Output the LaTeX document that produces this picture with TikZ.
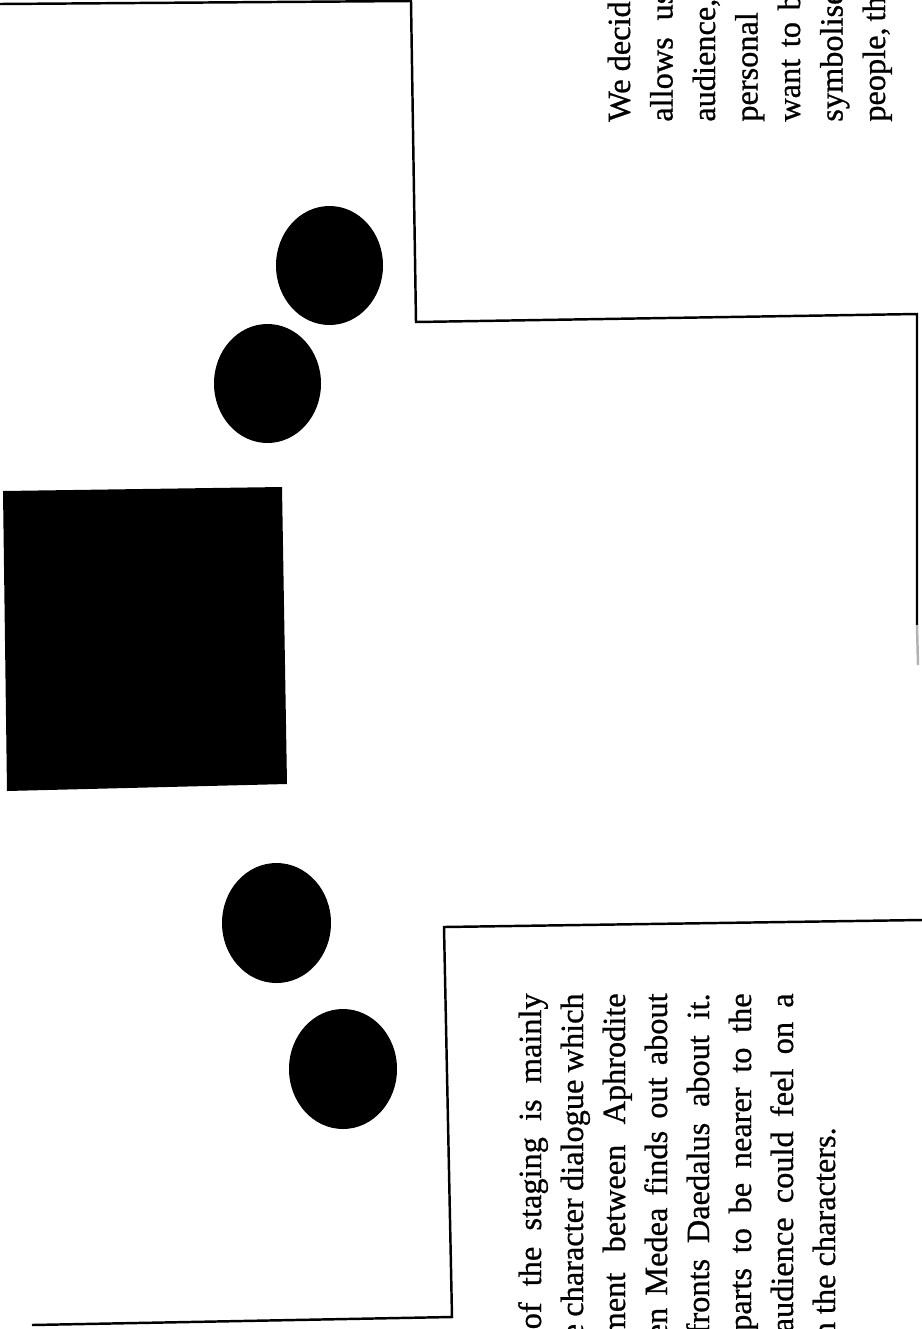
\documentclass[tikz,border=0pt]{standalone}
\usepackage{fontspec}
\setmainfont{Liberation Serif}
\usetikzlibrary{positioning}
\tikzset{
  wall/.style={line width=1.4pt,line join=miter},
  actor/.style={fill=black},
  note/.style={rotate=90,inner sep=0pt,font=\fontsize{18.4}{22}\selectfont\addfontfeature{FakeBold=0.8}},
}
\newcommand{\fullline}[2]{\makebox[#1][s]{#2}}
\begin{document}
\begin{tikzpicture}[x=0.02cm,y=-0.02cm]
\useasboundingbox (0,0) rectangle (922,1329);
\clip (0,0) rectangle (922,1329);
% stage edges
\draw[wall] (0,4) -- (411,1) -- (416,322) -- (917,314) -- (917,625);
\draw[wall,black!30] (917,625) -- (918,665);
\draw[wall] (32,1325) -- (452,1317) -- (444,927) -- (922,920);
% block
\fill (3,491) -- (282,487) -- (287,784) -- (7,791) -- cycle;
% actors
\fill[actor] (329.5,265.5) ellipse [x radius=53.5,y radius=59.5];
\fill[actor] (267.5,383.5) ellipse [x radius=53.5,y radius=59.5];
\fill[actor] (276.5,923) ellipse [x radius=54.5,y radius=60];
\fill[actor] (343,1069) ellipse [x radius=54,y radius=60];
% notes, top right
\node[note,anchor=base west] (r1) at (630,122) {We decid};
\node[note,anchor=base west] (r2) at (672.5,122) {\fullline{2.6cm}{allows us}};
\node[note,anchor=base west] (r3) at (715,122) {audience,};
\node[note,anchor=base west] (r4) at (757.5,122) {personal};
\node[note,anchor=base west] (r5) at (800,122) {\fullline{2.55cm}{want to b}};
\node[note,anchor=base west] (r6) at (842.5,122) {symbolise};
\node[note,anchor=base west] (r7) at (885,122) {\fullline{2.5cm}{people, th}};
% notes, bottom right
\node[note,anchor=base east] (l1) at (541,993) {\fullline{6.72cm}{of the staging is mainly}};
\node[note,anchor=base east] (l2) at (583,993) {\fullline{6.9cm}{e character dialogue which}};
\node[note,anchor=base east] (l3) at (625,993) {\fullline{6.88cm}{ment between Aphrodite}};
\node[note,anchor=base east] (l4) at (667,993) {\fullline{6.9cm}{en Medea finds out about}};
\node[note,anchor=base east] (l5) at (709,993) {\fullline{6.82cm}{fronts Daedalus about it.}};
\node[note,anchor=base east] (l6) at (751,993) {\fullline{6.75cm}{parts to be nearer to the}};
\node[note,anchor=base east] (l7) at (793,993) {\fullline{6.78cm}{audience could feel on a}};
\node[note,anchor=base east] (l8) at (835,1127) {n the characters.};
\end{tikzpicture}
\end{document}
